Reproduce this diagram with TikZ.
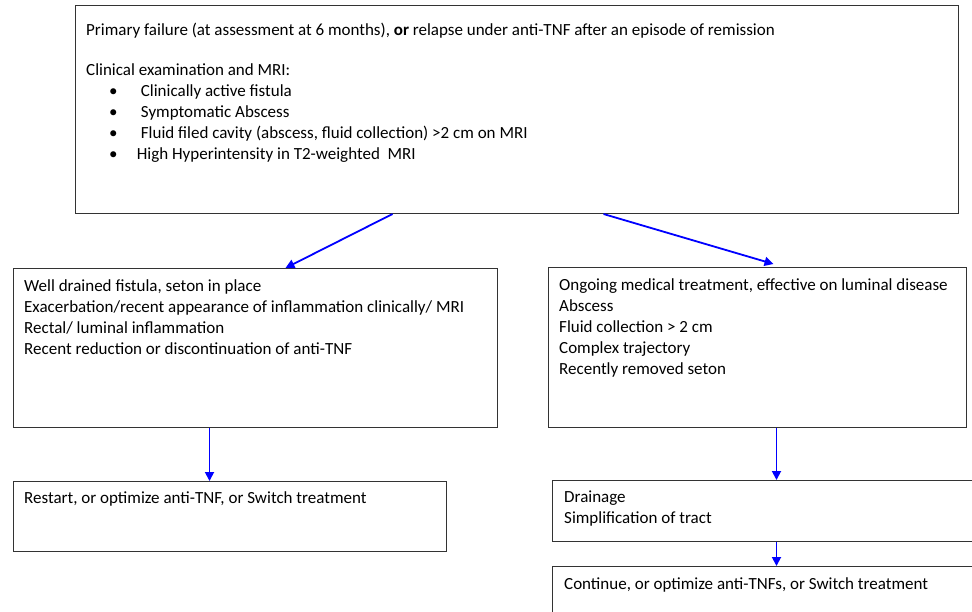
\documentclass[tikz,border=0pt]{standalone}
\usepackage{fontspec}
\setmainfont{Carlito}
\usetikzlibrary{arrows.meta,positioning}

\begin{document}
\begin{tikzpicture}[
  x=1pt, y=-1pt,
  font=\fontsize{17}{21}\selectfont,
  panel/.style={draw=black!80, line width=1pt, anchor=north west, inner sep=0pt},
  txt/.style={inner sep=0pt, align=left, execute at begin node=\rule{0pt}{22pt}},
  arr/.style={draw=blue, line width=1.8pt, -{Triangle[length=9pt, width=9pt]}}
]
  \clip (0,0) rectangle (972,611);
  \fill[white] (0,0) rectangle (972,611);

  \node[panel, minimum width=883pt, minimum height=208pt] (fail) at (75,5) {};
  \node[panel, minimum width=484pt, minimum height=159pt] (drained) at (13,268) {};
  \node[panel, minimum width=418pt, minimum height=160pt] (ongoing) at (548,267) {};
  \node[panel, minimum width=433pt, minimum height=70pt] (restart) at (13,481) {};
  \node[panel, minimum width=433pt, minimum height=61pt] (drain) at (552,480) {};
  \node[panel, minimum width=433pt, minimum height=70pt] (cont) at (552,566) {};

  \node[txt, below right=18pt and 11pt of fail.north west] (failtxt) {Primary failure (at assessment at 6 months), \textbf{or} relapse under anti-TNF after an episode of remission\\[19pt]
    Clinical examination and MRI:\\
    \hspace*{23pt}\makebox[31.7pt][l]{•}Clinically active fistula\\
    \hspace*{23pt}\makebox[31.7pt][l]{•}Symptomatic Abscess\\
    \hspace*{23pt}\makebox[31.7pt][l]{•}Fluid filed cavity (abscess, fluid collection) >2 cm on MRI\\
    \hspace*{23pt}\makebox[27.7pt][l]{•}High Hyperintensity in T2-weighted\ \ MRI};
  \node[txt, below right=11pt and 11pt of drained.north west] (drainedtxt) {Well drained fistula, seton in place\\
    Exacerbation/recent appearance of inflammation clinically/ MRI\\
    Rectal/ luminal inflammation\\
    Recent reduction or discontinuation of anti-TNF};
  \node[txt, below right=11pt and 11pt of ongoing.north west] (ongoingtxt) {Ongoing medical treatment, effective on luminal disease\\
    Abscess\\
    Fluid collection > 2 cm\\
    Complex trajectory\\
    Recently removed seton};
  \node[txt, below right=0pt and 11pt of restart.north west] (restarttxt) {Restart, or optimize anti-TNF, or Switch treatment};
  \node[txt, below right=11pt and 12pt of drain.north west] (draintxt) {Drainage\\
    Simplification of tract};
  \node[txt, below right=1pt and 12pt of cont.north west] (conttxt) {Continue, or optimize anti-TNFs, or Switch treatment};

  \draw[arr] ([xshift=-124.5pt]fail.south) -- ([xshift=30pt]drained.north);
  \draw[arr] ([xshift=86.5pt]fail.south) -- ([xshift=16pt,yshift=3pt]ongoing.north);
  \draw[arr] ([xshift=-46pt]drained.south) -- ([xshift=-46pt]drained.south |- restart.north);
  \draw[arr] ([xshift=19pt]ongoing.south) -- ([xshift=19pt]ongoing.south |- drain.north);
  \draw[arr] ([xshift=7.5pt]drain.south) -- ([xshift=7.5pt]drain.south |- cont.north);
\end{tikzpicture}
\end{document}
